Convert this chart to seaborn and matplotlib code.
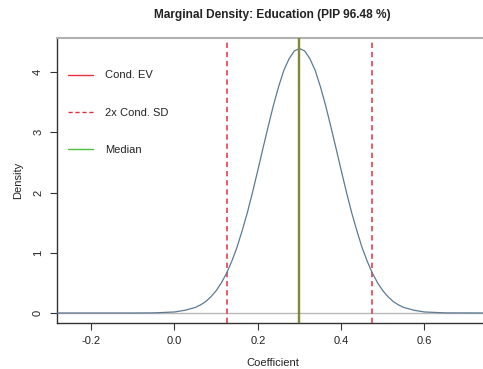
import matplotlib
matplotlib.use("Agg")
import matplotlib.pyplot as plt
import seaborn as sns
import pandas as pd
from matplotlib.lines import Line2D

# ---- data ----
coef_x = [-0.282, -0.10, -0.05, 0.0, 0.025, 0.05, 0.0625, 0.075, 0.0875, 0.10, 0.1125,
          0.125, 0.1375, 0.15, 0.1625, 0.175, 0.1875, 0.20, 0.2125, 0.225, 0.2375,
          0.25, 0.2625, 0.275, 0.2875, 0.30, 0.3125, 0.325, 0.3375, 0.35, 0.3625,
          0.375, 0.3875, 0.40, 0.4125, 0.425, 0.4375, 0.45, 0.4625, 0.475, 0.4875,
          0.50, 0.5125, 0.525, 0.5375, 0.55, 0.575, 0.60, 0.65, 0.75]
density = [0.0, 0.0, 0.002, 0.017, 0.045, 0.092, 0.135, 0.19, 0.27, 0.37, 0.50,
           0.66, 0.86, 1.09, 1.37, 1.67, 2.01, 2.37, 2.74, 3.10, 3.45,
           3.76, 4.03, 4.22, 4.35, 4.39, 4.35, 4.22, 4.03, 3.76, 3.45,
           3.10, 2.74, 2.37, 2.01, 1.67, 1.37, 1.09, 0.86, 0.66, 0.50,
           0.37, 0.27, 0.19, 0.135, 0.092, 0.045, 0.017, 0.002, 0.0]
cond_ev = 0.300
cond_sd_lo = 0.127
cond_sd_hi = 0.475
median = 0.298
legend_labels = ["Cond. EV", "2x Cond. SD", "Median"]
x_ticks = [-0.2, 0.0, 0.2, 0.4, 0.6]
y_ticks = [0, 1, 2, 3, 4]
title = "Marginal Density: Education (PIP 96.48 %)"

sns.set_style("white")
plt.rcParams["font.family"] = ["Liberation Sans", "DejaVu Sans"]
plt.rcParams["text.color"] = "#222222"
plt.rcParams["axes.labelcolor"] = "#222222"
plt.rcParams["xtick.color"] = "#222222"
plt.rcParams["ytick.color"] = "#222222"

fig = plt.figure(figsize=(4.83, 3.69), dpi=100)
ax = fig.add_axes([57 / 483, 1 - 323 / 369, 1.01 - 57 / 483, (323 - 38) / 369])

df = pd.DataFrame({"x": coef_x, "y": density})
ax.axhline(0, color="#b8b8b8", lw=1.0, zorder=1)
sns.lineplot(data=df, x="x", y="y", ax=ax, color="#5d7a92", lw=0.9, zorder=3)

ax.axvline(cond_sd_lo, color="#e0303f", lw=1.1, ls=(0, (3.5, 2.5)), zorder=2)
ax.axvline(cond_sd_hi, color="#e0303f", lw=1.1, ls=(0, (3.5, 2.5)), zorder=2)
ax.axvline(cond_ev, color="#d8262b", lw=1.6, zorder=4)
ax.axvline(median, color="#55b83a", lw=1.6, alpha=0.7, zorder=5)

ax.set_xlim(-0.282, 0.752)
ax.set_ylim(-0.166, 4.565)
ax.set_xticks(x_ticks)
ax.set_xticklabels([f"{v:.1f}" for v in x_ticks])
ax.set_yticks(y_ticks)
ax.set_yticklabels([str(v) for v in y_ticks], rotation=90, va="center")
ax.tick_params(axis="both", direction="out", length=5, width=0.8, color="#333333",
               labelsize=8, left=True, bottom=True)
ax.tick_params(axis="x", pad=4)
ax.tick_params(axis="y", pad=5)

for s in ["left", "bottom"]:
    ax.spines[s].set_color("#333333")
    ax.spines[s].set_linewidth(1.0)
ax.spines["top"].set_color("#b0b0b0")
ax.spines["top"].set_linewidth(1.5)
ax.spines["right"].set_visible(False)

ax.set_xlabel("Coefficient", fontsize=8, labelpad=9)
ax.set_ylabel("Density", fontsize=8, labelpad=7)
fig.text(272 / 483, 1 - 15 / 369, title, ha="center", va="center",
         fontsize=8.6, fontweight="bold")

handles = [Line2D([], [], color="#e8323f", lw=1.0),
           Line2D([], [], color="#e0303f", lw=1.0, ls=(0, (3, 2))),
           Line2D([], [], color="#4cc23c", lw=1.0)]
ax.legend(handles, legend_labels, loc="upper left", bbox_to_anchor=(0.0, 0.925),
          frameon=False, fontsize=8, labelspacing=2.45, handlelength=2.2,
          handletextpad=1.1, borderaxespad=0.6)

fig.savefig("out.png", dpi=100)
